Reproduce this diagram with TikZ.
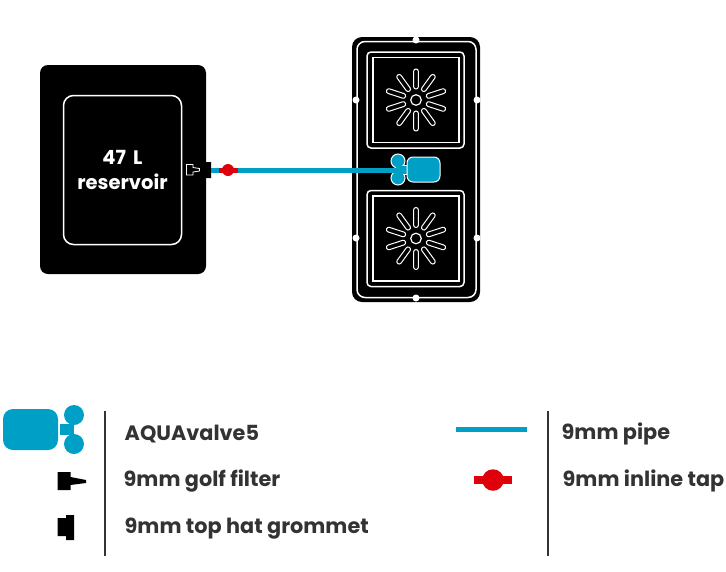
\documentclass[tikz,border=0pt]{standalone}
\usepackage{fontspec}
\setmainfont{Poppins}[BoldFont={Poppins Bold}]
\definecolor{aqua}{HTML}{009FC6}
\definecolor{tapred}{HTML}{E0000B}
\definecolor{legtext}{HTML}{333333}
\tikzset{
 box/.style={rectangle,inner sep=0pt,outer sep=0pt},
 disc/.style={circle,inner sep=0pt,outer sep=0pt},
 whiteline/.style={draw=white,line width=1.5pt},
 spoke/.style={draw=white,fill=black,line width=1pt,rounded corners=2.4pt},
 pipe/.style={aqua,line width=5pt},
 legend/.style={anchor=west,inner sep=0pt,font=\bfseries\fontsize{20.8}{22}\selectfont,text=legtext},
 sep/.style={draw=legtext,line width=1.5pt},
 valveblue/.style={fill=aqua},
}
\newcommand{\sunburst}[2]{%
 \foreach \a in {90,54,18,-18,-54,-90,-126,-162,162,126}{
  \begin{scope}[shift={(#1,#2)},rotate=-\a]
   \draw[spoke] (11,-2.4) rectangle (31,2.4);
  \end{scope}}
 \draw[white,line width=1.2pt] (#1,#2) circle (5.3);
}
\begin{document}
\begin{tikzpicture}[x=1pt,y=-1pt]
\useasboundingbox (0,0) rectangle (726,571);
% reservoir
\node[box,fill=black,rounded corners=8pt,minimum width=166pt,minimum height=209pt] (res) at (123,169.5) {};
\node[box,whiteline,rounded corners=10pt,minimum width=118pt,minimum height=149pt,align=center,text=white,font=\bfseries\fontsize{19.5}{25.5}\selectfont] (resin) at (122.5,170) {47\hspace{3pt} L\\[0pt]reservoir};
% panel
\node[box,fill=black,rounded corners=10pt,minimum width=128pt,minimum height=265pt] (panel) at (416,169.5) {};
\node[box,whiteline,rounded corners=8pt,minimum width=119pt,minimum height=256pt] (panelin) at (416.5,169.5) {};
\foreach \n/\x/\y in {dt/416/40,dl/356/100,dr/477/100,dbl/356/238,dbr/477/238,db/416/298}
 \node[disc,fill=white,minimum size=7pt] (\n) at (\x,\y) {};
\node[box,whiteline,rounded corners=4pt,minimum width=97pt,minimum height=96pt] (sq1o) at (415.5,100) {};
\node[box,whiteline,line width=1.2pt,minimum width=86pt,minimum height=85pt] (sq1i) at (416,100) {};
\node[box,whiteline,rounded corners=4pt,minimum width=97pt,minimum height=96pt] (sq2o) at (415.5,238.5) {};
\node[box,whiteline,line width=1.2pt,minimum width=86pt,minimum height=85pt] (sq2i) at (416,238.5) {};
\sunburst{416}{100}
\sunburst{416}{238.5}
% valve on panel
\node[box,valveblue,draw=white,line width=1pt,minimum width=12pt,minimum height=9pt] (vstub) at (402,170) {};
\node[disc,valveblue,draw=white,line width=1pt,minimum size=14pt] (vc1) at (398,161) {};
\node[disc,valveblue,draw=white,line width=1pt,minimum size=14pt] (vc2) at (398,178) {};
\node[box,valveblue,draw=white,line width=1pt,rounded corners=6pt,minimum width=33pt,minimum height=25pt] (vbody) at (423.5,169.5) {};
\fill[aqua] (396,166) rectangle (406,174);
% filter, grommet
\node[box,minimum width=14pt,minimum height=11pt] (filt) at (193,169.5) {};
\draw[fill=black,draw=white,line width=.8pt] (186.5,164.5) -- (193,164.5) -- (193,167.5) -- (199.5,168.5) -- (199.5,171) -- (193,172) -- (193,175) -- (186.5,175) -- cycle;
\node[box,minimum width=9pt,minimum height=16pt] (grom) at (206.5,170) {};
\fill[black] (202,165) -- (206,165) -- (206,162) -- (211,162) -- (211,178) -- (206,178) -- (206,175) -- (202,175) -- cycle;
% pipe
\node[box,minimum width=19pt,minimum height=5pt,fill=tapred] (tapbar) at (228.5,170) {};
\draw[pipe] (grom.east) -- (tapbar.west);
\draw[pipe] (tapbar.east) -- (vstub.west);
\node[disc,fill=tapred,minimum size=12pt] (tap) at (228,170) {};
% legend
\node[box,valveblue,rounded corners=10pt,minimum width=55pt,minimum height=41pt] (lvb) at (30.5,429.5) {};
\node[box,valveblue,minimum width=14pt,minimum height=11pt] (lvs) at (67,429.5) {};
\node[disc,valveblue,minimum size=20pt] (lv1) at (74,415) {};
\node[disc,valveblue,minimum size=20pt] (lv2) at (74,444) {};
\node[box,minimum width=29pt,minimum height=18pt] (lf) at (71.5,481) {};
\fill[black] (57.5,472) -- (70.5,472) -- (70.5,477) -- (86,480) -- (86,483) -- (70.5,485) -- (70.5,490) -- (57.5,490) -- cycle;
\node[box,minimum width=17pt,minimum height=25pt] (lg) at (65.5,527.5) {};
\fill[black] (57.5,518) -- (66,518) -- (66,515) -- (74,515) -- (74,540) -- (66,540) -- (66,536) -- (57.5,536) -- cycle;
\coordinate (s1t) at (105,411); \coordinate (s1b) at (105,556);
\coordinate (s2t) at (548,411); \coordinate (s2b) at (548,556);
\draw[sep] (s1t) -- (s1b);
\draw[sep] (s2t) -- (s2b);
\coordinate (lpa) at (456,429.5); \coordinate (lpb) at (527,429.5);
\draw[pipe] (lpa) -- (lpb);
\node[box,fill=tapred,minimum width=38pt,minimum height=8pt] (ltb) at (493,480) {};
\node[disc,fill=tapred,minimum size=21.5pt] (ltc) at (493,480) {};
\node[legend] (t1) at (124.5,434) {AQUAvalve5};
\node[legend] (t2) at (123.5,481) {9mm golf filter};
\node[legend] (t3) at (124.5,529) {9mm top hat grommet};
\node[legend] (t4) at (561.5,434) {9mm pipe};
\node[legend] (t5) at (562.5,481) {9mm inline tap};
\end{tikzpicture}
\end{document}
